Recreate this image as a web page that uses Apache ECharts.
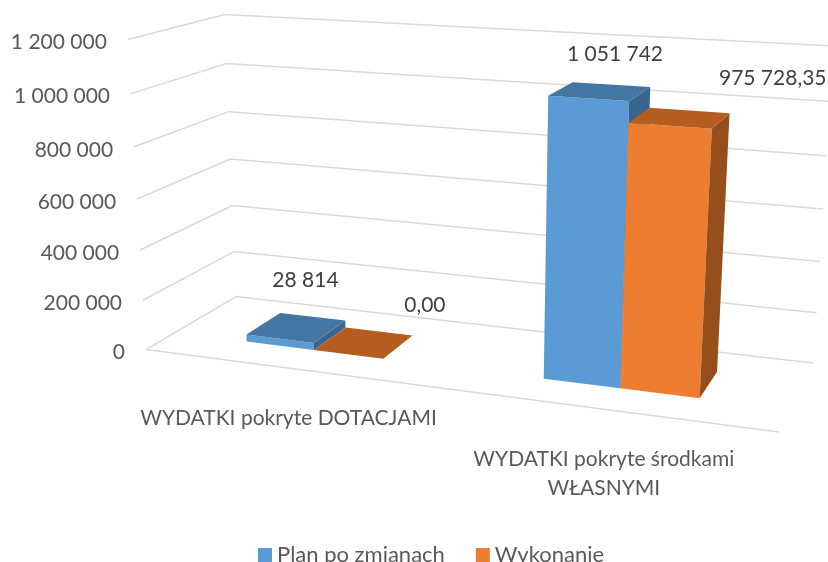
<!DOCTYPE html>
<html>
<head>
<meta charset="utf-8">
<script src="https://cdn.jsdelivr.net/npm/echarts@6/dist/echarts.min.js"></script>
<style>
  html, body { margin: 0; padding: 0; background: #fff; overflow: hidden; }
  #main { width: 828px; height: 562px; }
</style>
</head>
<body>
<div id="main"></div>
<script>
// dane wykresu
var categories = ['WYDATKI pokryte DOTACJAMI', 'WYDATKI pokryte środkami\nWŁASNYMI'];
var planValues = [28814, 1051742];
var planLabels = ['28 814', '1 051 742'];
var wykonanieValues = [0, 975728.35];
var wykonanieLabels = ['0,00', '975 728,35'];
var yTicks = [0, 200000, 400000, 600000, 800000, 1000000, 1200000];
var yTickLabels = ['0', '200 000', '400 000', '600 000', '800 000', '1 000 000', '1 200 000'];

var FONT = 'Lato, sans-serif';
var BAR_SHARE = 1 / 4.2;      // gap width 220%
var DEPTH_FRONT = 0.3, DEPTH_BACK = 0.7;

// kalibracja rzutu 3D -> ekran: [u, v, w] -> [x, y] (rogi ścian wykresu)
var calib = [
  [0, 0, 0, 146, 349], [1, 0, 0, 779, 432], [0, 0, 1, 236, 297], [1, 0, 1, 813, 363],
  [0, 1, 0, 127.5, 40], [0, 1, 1, 225, 14], [1, 1, 1, 834, 46]
];

function solveProjection(pts) {
  var rows = [], rhs = [];
  pts.forEach(function (p) {
    var u = p[0], v = p[1], w = p[2], x = p[3], y = p[4];
    rows.push([u, v, w, 1, 0, 0, 0, 0, -x * u, -x * v, -x * w]); rhs.push(x);
    rows.push([0, 0, 0, 0, u, v, w, 1, -y * u, -y * v, -y * w]); rhs.push(y);
  });
  // równania normalne
  var n = 11, A = [], i, j, k;
  for (i = 0; i < n; i++) {
    A[i] = [];
    for (j = 0; j <= n; j++) {
      var s = 0;
      for (k = 0; k < rows.length; k++) s += rows[k][i] * (j < n ? rows[k][j] : rhs[k]);
      A[i][j] = s;
    }
  }
  for (i = 0; i < n; i++) {
    var best = i;
    for (k = i + 1; k < n; k++) if (Math.abs(A[k][i]) > Math.abs(A[best][i])) best = k;
    var tmp = A[i]; A[i] = A[best]; A[best] = tmp;
    for (k = 0; k < n; k++) {
      if (k === i) continue;
      var f = A[k][i] / A[i][i];
      for (j = i; j <= n; j++) A[k][j] -= f * A[i][j];
    }
  }
  var m = [];
  for (i = 0; i < n; i++) m[i] = A[i][n] / A[i][i];
  return m;
}

var M = solveProjection(calib);

function project(u, v, w) {
  var d = M[8] * u + M[9] * v + M[10] * w + 1;
  return [
    (M[0] * u + M[1] * v + M[2] * w + M[3]) / d,
    (M[4] * u + M[5] * v + M[6] * w + M[7]) / d
  ];
}

// pozycja z osi niewidocznej siatki -> współrzędne znormalizowane
function toPlane(api, cat, val) {
  var c = api.coord([cat, val]);
  return [c[0] / api.getWidth(), 1 - c[1] / api.getHeight()];
}

function poly(points, color) {
  return { type: 'polygon', shape: { points: points }, style: { fill: color }, silent: true };
}

function textEl(text, x, y, color, align, va) {
  return {
    type: 'text', silent: true,
    style: { text: text, x: x, y: y, fill: color, font: '21px ' + FONT, align: align, verticalAlign: va, lineHeight: 29 }
  };
}

function renderWalls(params, api) {
  var p = toPlane(api, 0, api.value(1));
  var v = p[1];
  var a = project(0, v, 0), b = project(0, v, 1), c = project(1, v, 1);
  return {
    type: 'group',
    children: [
      {
        type: 'polyline', silent: true,
        shape: { points: [a, b, c] },
        style: { fill: 'none', stroke: '#d9d9d9', lineWidth: 1.5 }
      },
      textEl(yTickLabels[params.dataIndex], a[0] - 21, a[1] + 3, '#595959', 'right', 'middle')
    ]
  };
}

function renderFloorFront(params, api) {
  var a = project(0, 0, 0), b = project(1, 0, 0);
  return {
    type: 'line', silent: true,
    shape: { x1: a[0], y1: a[1], x2: b[0], y2: b[1] },
    style: { stroke: '#d9d9d9', lineWidth: 1.5 }
  };
}

function renderCategory(params, api) {
  var cat = api.value(0);
  var u = toPlane(api, cat, 0)[0];
  var a = project(u, 0, 0);
  return textEl(categories[cat], a[0], a[1] + 35.5, '#595959', 'center', 'top');
}

function barRenderer(seriesPos, colors, labels, nudge) {
  return function (params, api) {
    var cat = api.value(0);
    var p = toPlane(api, cat, api.value(1));
    var bw = api.size([1, 0])[0] / api.getWidth() * BAR_SHARE;
    var u0 = p[0] + (seriesPos - 1) * bw, u1 = u0 + bw, v = p[1];
    var w0 = DEPTH_FRONT, w1 = DEPTH_BACK;
    var top = project((u0 + u1) / 2, v, (w0 + w1) / 2);
    return {
      type: 'group',
      children: [
        poly([project(u0, 0, w0), project(u1, 0, w0), project(u1, v, w0), project(u0, v, w0)], colors[0]),
        poly([project(u1, 0, w0), project(u1, 0, w1), project(u1, v, w1), project(u1, v, w0)], colors[2]),
        poly([project(u0, v, w0), project(u1, v, w0), project(u1, v, w1), project(u0, v, w1)], colors[1]),
        textEl(labels[cat], top[0] + nudge[cat][0], top[1] + nudge[cat][1], '#404040', 'center', 'middle')
      ]
    };
  };
}

function pairs(values) {
  return values.map(function (v, i) { return [i, v]; });
}

var chart = echarts.init(document.getElementById('main'), null, { renderer: 'canvas' });

var option = {
  animation: false,
  backgroundColor: '#fff',
  color: ['#5B9BD5', '#ED7D31'],
  textStyle: { fontFamily: FONT },
  legend: {
    data: ['Plan po zmianach', 'Wykonanie'],
    left: 253,
    top: 539,
    icon: 'rect',
    itemWidth: 14,
    itemHeight: 14,
    itemGap: 31,
    selectedMode: false,
    textStyle: { color: '#595959', fontSize: 22, fontFamily: FONT, padding: [0, 0, 2, 0] }
  },
  // niewidoczna siatka na całe płótno: osie przeliczają wartości, rzut robi resztę
  grid: { left: 0, right: 0, top: 0, bottom: 0 },
  xAxis: { type: 'category', data: categories, show: false },
  yAxis: { type: 'value', min: 0, max: 1200000, interval: 200000, show: false },
  series: [
    { type: 'custom', z: 1, clip: false, renderItem: renderWalls, data: pairs(yTicks).map(function (d) { return [0, d[1]]; }) },
    { type: 'custom', z: 1, clip: false, renderItem: renderFloorFront, data: [[0, 0]] },
    { type: 'custom', z: 1, clip: false, renderItem: renderCategory, data: pairs(planValues).map(function (d) { return [d[0], 0]; }) },
    {
      type: 'custom', name: 'Plan po zmianach', z: 2, clip: false,
      itemStyle: { color: '#5B9BD5' },
      renderItem: barRenderer(0, ['#5B9BD5', '#4476A4', '#3A668E'], planLabels, [[9, -47], [15, -37]]),
      data: pairs(planValues)
    },
    {
      type: 'custom', name: 'Wykonanie', z: 3, clip: false,
      itemStyle: { color: '#ED7D31' },
      renderItem: barRenderer(1, ['#ED7D31', '#B55D20', '#964F1B'], wykonanieLabels, [[61, -37], [93, -40]]),
      data: pairs(wykonanieValues)
    }
  ]
};

chart.setOption(option);
</script>
</body>
</html>
